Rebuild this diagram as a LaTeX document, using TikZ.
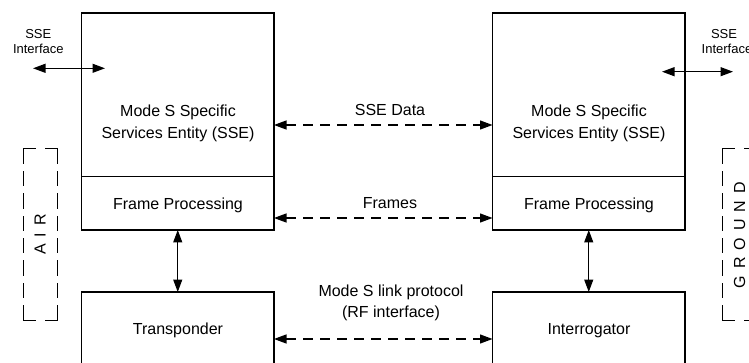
\documentclass[tikz,border=0pt]{standalone}
\usepackage{fontspec}
\setmainfont{Liberation Sans}
\usetikzlibrary{arrows.meta}
\newcommand{\zonespace}{\spaceskip=7pt\relax}
\begin{document}
\begin{tikzpicture}[x=1pt,y=-1pt,
  >={Triangle[length=12.5pt,width=9pt]},
  box/.style={draw, line width=1.2pt, inner sep=0pt, outer sep=0pt, anchor=north west, minimum width=192.5pt},
  lbl/.style={inner sep=0pt, anchor=base, font=\fontsize{16}{19}\selectfont},
  small/.style={inner sep=0pt, anchor=base, font=\fontsize{13}{15}\selectfont},
  link/.style={line width=1.2pt, <->},
  dlink/.style={link, dash pattern=on 10pt off 7pt},
  zoneh/.style={draw, line width=1pt, line cap=rect, dash pattern=on 12pt off 10pt},
  zonev/.style={draw, line width=1pt, line cap=rect, dash pattern=on 14.4pt off 8pt},
  zonetxt/.style={inner sep=0pt, rotate=90, font=\fontsize{16}{19}\selectfont}]
\path[use as bounding box] (0,0) rectangle (749,363);
\clip (0,0) rectangle (749,363);

% left column (air)
\node[box, minimum height=163.5pt] (lsse) at (81.5,13) {};
\node[box, minimum height=53.5pt] (lframe) at (81.5,176.5) {};
\node[box, minimum height=100pt] (ltrans) at (81.5,292) {};
% right column (ground)
\node[box, minimum height=163.5pt] (rsse) at (492.5,13) {};
\node[box, minimum height=53.5pt] (rframe) at (492.5,176.5) {};
\node[box, minimum height=100pt] (rinter) at (492.5,292) {};

% box texts
\node[lbl] (lt1) at (178,116.7) {Mode S Specific};
\node[lbl] (lt2) at (178,139) {Services Entity (SSE)};
\node[lbl] (lt3) at (178,209.3) {Frame Processing};
\node[lbl] (lt4) at (178,334) {Transponder};
\node[lbl] (rt1) at (589,116.7) {Mode S Specific};
\node[lbl] (rt2) at (589,139) {Services Entity (SSE)};
\node[lbl] (rt3) at (589,209.3) {Frame Processing};
\node[lbl] (rt4) at (589,334) {Interrogator};

% middle labels
\node[lbl] (msse) at (390,115.7) {SSE Data};
\node[lbl] (mfr) at (390,208.5) {Frames};
\node[lbl] (mrf1) at (391,296) {Mode S link protocol};
\node[lbl] (mrf2) at (391,317.3) {(RF interface)};

% horizontal dashed links
\draw[dlink] (lsse.east |- 0,125) -- (rsse.west |- 0,125);
\draw[dlink] (lframe.east |- 0,218) -- (rframe.west |- 0,218);
\draw[dlink] (ltrans.east |- 0,339) -- (rinter.west |- 0,339);

% vertical links
\draw[link] (lframe.south) -- (ltrans.north);
\draw[link] (rframe.south) -- (rinter.north);

% SSE interfaces
\node[small] (lif1) at (38.3,38.3) {SSE};
\node[small] (lif2) at (38.3,54) {Interface};
\coordinate (lifa) at (33,68.3);
\coordinate (lifb) at (105,68.3);
\draw[link] (lifa) -- (lifb);
\node[small] (rif1) at (724,38.3) {SSE};
\node[small, anchor=base west] (rif2) at (701.5,54) {Interface};
\coordinate (rifa) at (662,71.7);
\coordinate (rifb) at (733,71.7);
\draw[link] (rifa) -- (rifb);

% zones
\coordinate (airnw) at (23,149);
\coordinate (airne) at (57,149);
\coordinate (airsw) at (23,320);
\coordinate (airse) at (57,320);
\draw[zoneh] (airnw) -- (airne);
\draw[zoneh] (airsw) -- (airse);
\draw[zonev] (airnw) -- (airsw);
\draw[zonev] (airne) -- (airse);
\node[zonetxt] (airt) at (40,234.5) {\zonespace A I R};
\coordinate (grnw) at (722,149);
\coordinate (grne) at (756,149);
\coordinate (grsw) at (722,320);
\coordinate (grse) at (756,320);
\draw[zoneh] (grnw) -- (grne);
\draw[zoneh] (grsw) -- (grse);
\draw[zonev] (grnw) -- (grsw);
\draw[zonev] (grne) -- (grse);
\node[zonetxt] (groundt) at (739.5,235) {\zonespace G R O U N D};
\end{tikzpicture}
\end{document}
